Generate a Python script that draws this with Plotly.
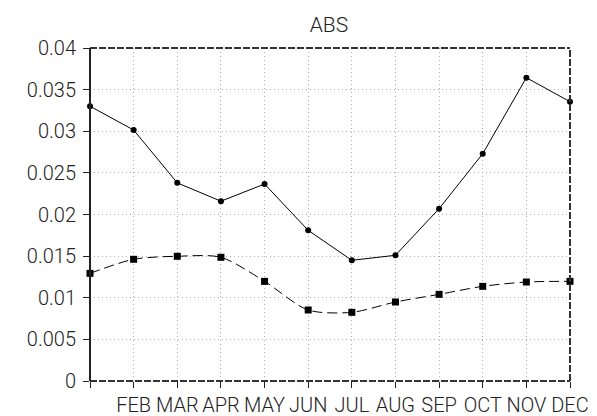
import plotly.graph_objects as go

months = ["JAN", "FEB", "MAR", "APR", "MAY", "JUN", "JUL", "AUG", "SEP", "OCT", "NOV", "DEC"]
tick_text = ["", "FEB", "MAR", "APR", "MAY", "JUN", "JUL", "AUG", "SEP", "OCT", "NOV", "DEC"]
series_solid = [0.0330, 0.03015, 0.0238, 0.0216, 0.02366, 0.0181, 0.0145, 0.0151, 0.0207, 0.0273, 0.03643, 0.03355]
series_dash = [0.01293, 0.01462, 0.01498, 0.01486, 0.01197, 0.00853, 0.00825, 0.00949, 0.01041, 0.01137, 0.01189, 0.01197]
y_ticks = [0, 0.005, 0.01, 0.015, 0.02, 0.025, 0.03, 0.035, 0.04]
y_text = ["0", "0.005", "0.01", "0.015", "0.02", "0.025", "0.03", "0.035", "0.04"]

x_idx = list(range(len(months)))
FONT = "Roboto, sans-serif"

fig = go.Figure()
fig.add_trace(go.Scatter(
    x=x_idx, y=series_solid, mode="lines+markers",
    line=dict(color="black", width=1),
    marker=dict(symbol="circle", size=6, color="black"),
    showlegend=False, cliponaxis=False, hoverinfo="skip"))
fig.add_trace(go.Scatter(
    x=x_idx, y=series_dash, mode="lines+markers",
    line=dict(color="black", width=1, dash="10px,5px", shape="spline", smoothing=0.8),
    marker=dict(symbol="square", size=7, color="black"),
    showlegend=False, cliponaxis=False, hoverinfo="skip"))

# frame: left solid, others dashed
for (x0, x1, y0, y1) in [(0, 1, 1, 1), (1, 1, 0, 1), (0, 1, 0, 0)]:
    fig.add_shape(type="line", xref="paper", yref="paper", x0=x0, x1=x1, y0=y0, y1=y1,
                  line=dict(color="#333333", width=2, dash="7px,2px"))
fig.add_shape(type="line", xref="paper", yref="paper", x0=0, x1=0, y0=0, y1=1,
              line=dict(color="#222222", width=2))

fig.update_layout(
    width=597, height=416,
    margin=dict(l=90, r=27, t=48, b=35, autoexpand=False),
    paper_bgcolor="white", plot_bgcolor="white",
    font=dict(family=FONT, color="#222222", weight=300),
    title=dict(text="ABS", x=0.551, xanchor="center", y=0.94, yanchor="middle",
               font=dict(size=21, family=FONT, color="#222222", weight=300)),
)
fig.update_xaxes(
    range=[0, 11], tickmode="array", tickvals=x_idx, ticktext=tick_text,
    showgrid=True, gridcolor="#b0b0b0", griddash="1px,3px", gridwidth=1,
    ticks="outside", ticklen=6, tickcolor="#222222", tickwidth=1,
    tickfont=dict(size=20, family=FONT, color="#222222", weight=300),
    showline=False, zeroline=False, fixedrange=True, automargin=False)
fig.update_yaxes(
    range=[0, 0.04], tickmode="array", tickvals=y_ticks, ticktext=y_text,
    showgrid=True, gridcolor="#b0b0b0", griddash="1px,3px", gridwidth=1,
    ticks="outside", ticklen=6, tickcolor="#222222", tickwidth=1,
    tickfont=dict(size=20, family=FONT, color="#222222", weight=300),
    ticklabelstandoff=3,
    showline=False, zeroline=False, fixedrange=True, automargin=False)

fig.write_html("out.html", config={"displayModeBar": False},
               post_script="document.body.style.margin='0';")
